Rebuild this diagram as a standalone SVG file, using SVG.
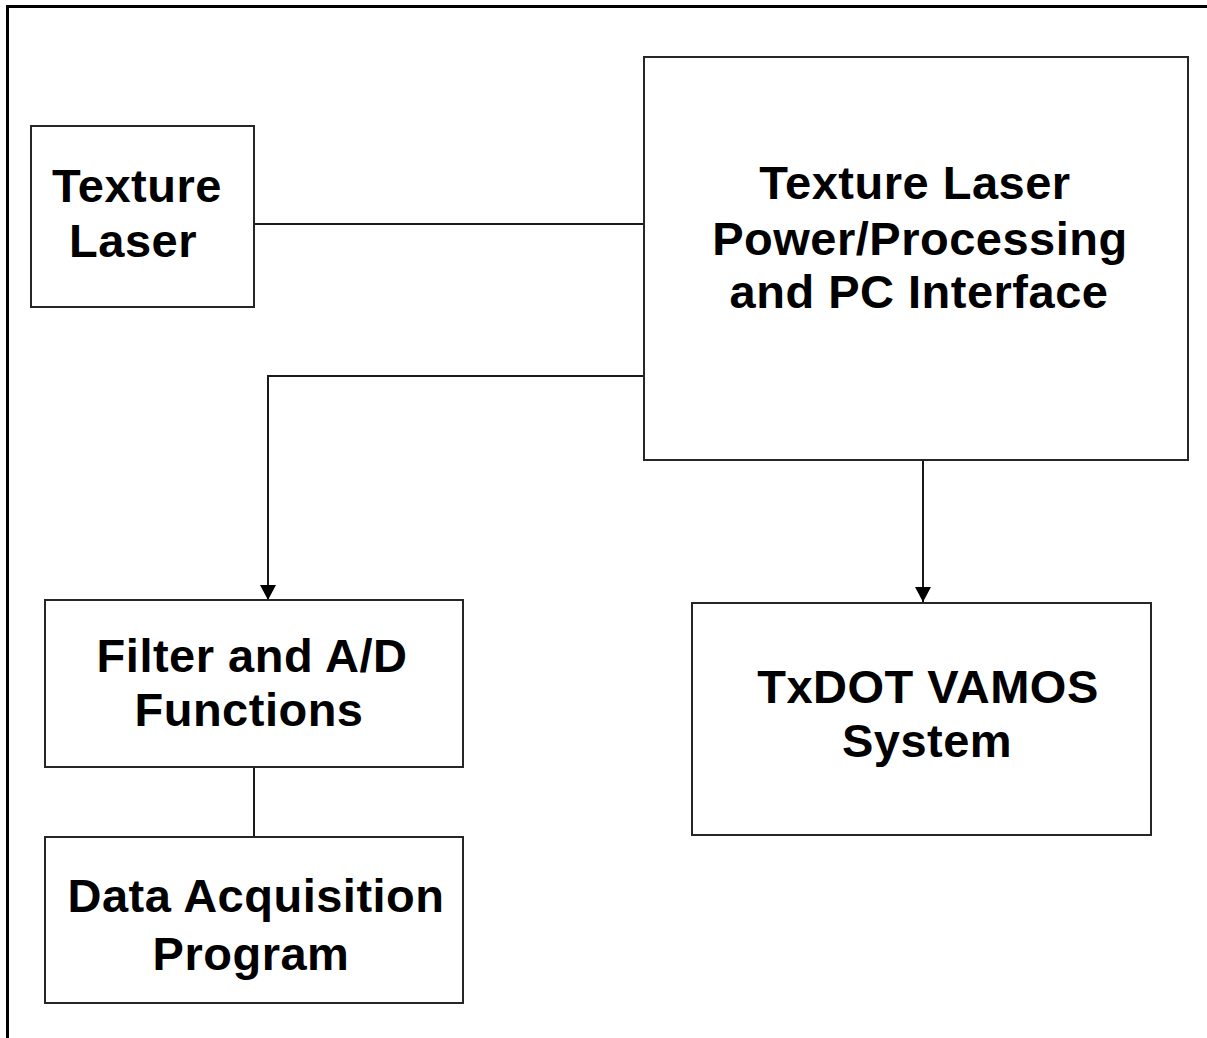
<svg xmlns="http://www.w3.org/2000/svg" width="1207" height="1038" viewBox="0 0 1207 1038">
  <style>
    .box { fill: #ffffff; stroke: #262626; stroke-width: 2; }
    .lbl { font-family: "Liberation Sans", Arial, sans-serif; font-weight: bold; font-size: 47px; letter-spacing: 0.5px; fill: #000000; text-anchor: middle; }
    .conn { fill: none; stroke: #1a1a1a; stroke-width: 2; }
    .frame { fill: none; stroke: #000000; stroke-width: 3; }
  </style>
  <defs>
    <marker id="arrow" markerUnits="userSpaceOnUse" markerWidth="15" markerHeight="16" refX="15" refY="8" orient="auto">
      <path d="M0,0 L15,8 L0,16 z" fill="#000000"/>
    </marker>
  </defs>
  <rect width="1207" height="1038" fill="#ffffff"/>
  <path class="frame" d="M7.5,1038 V6.5 H1207"/>

  <g id="connectors">
    <line class="conn" x1="254" y1="224" x2="644" y2="224"/>
    <path class="conn" d="M644,376 H268 V600" marker-end="url(#arrow)"/>
    <line class="conn" x1="923" y1="460" x2="923" y2="602" marker-end="url(#arrow)"/>
    <line class="conn" x1="254" y1="767" x2="254" y2="837"/>
  </g>

  <g id="texture-laser">
    <rect class="box" x="31" y="126" width="223" height="181"/>
    <text class="lbl" x="137" y="202">Texture</text>
    <text class="lbl" x="133" y="257">Laser</text>
  </g>

  <g id="power-processing">
    <rect class="box" x="644" y="57" width="544" height="403"/>
    <text class="lbl" x="915" y="199">Texture Laser</text>
    <text class="lbl" x="920" y="255">Power/Processing</text>
    <text class="lbl" x="919" y="308">and PC Interface</text>
  </g>

  <g id="filter-ad">
    <rect class="box" x="45" y="600" width="418" height="167"/>
    <text class="lbl" x="252" y="672">Filter and A/D</text>
    <text class="lbl" x="249" y="726">Functions</text>
  </g>

  <g id="data-acquisition">
    <rect class="box" x="45" y="837" width="418" height="166"/>
    <text class="lbl" x="256" y="912">Data Acquisition</text>
    <text class="lbl" x="251" y="970">Program</text>
  </g>

  <g id="txdot-vamos">
    <rect class="box" x="692" y="603" width="459" height="232"/>
    <text class="lbl" x="928" y="703">TxDOT VAMOS</text>
    <text class="lbl" x="927" y="757">System</text>
  </g>
</svg>
